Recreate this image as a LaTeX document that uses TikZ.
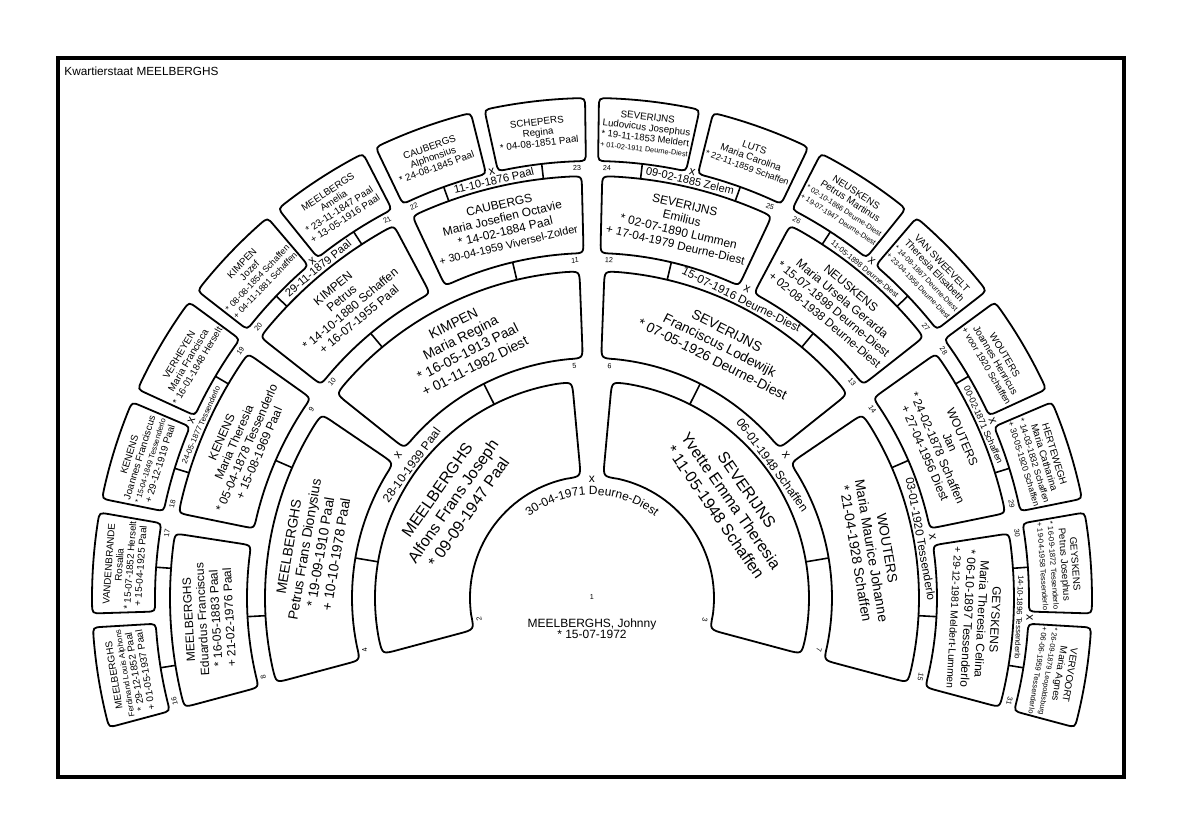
\documentclass[tikz,border=0pt]{standalone}
\usepackage{fontspec}
\setmainfont{Liberation Sans}
\usepackage{graphicx}
\usetikzlibrary{decorations.text}

\newsavebox\fitbox
\def\fitw{100pt}
\newcommand\FL[1]{\sbox\fitbox{#1}\ifdim\wd\fitbox>\fitw\resizebox{\fitw}{!}{\usebox\fitbox}\else\usebox\fitbox\fi}

\newcommand\setgen[1]{\ifcase#1\or
 \def\gG{0}\def\gRi{0}\def\gRo{122}\def\gRc{0}\or
 \def\gG{10.5}\def\gRi{122}\def\gRo{217}\def\gRc{15}\or
 \def\gG{4.4}\def\gRi{240}\def\gRo{327}\def\gRc{14}\or
 \def\gG{2.8}\def\gRi{345}\def\gRo{422}\def\gRc{12}\or
 \def\gG{1.6}\def\gRi{437}\def\gRo{500}\def\gRc{10}\fi}

\newcommand\boxangles[2]{%
 \setgen{#2}%
 \pgfmathsetmacro\nk{2^(#2-1)}%
 \pgfmathsetmacro\gw{(210-(\nk-1)*\gG)/\nk}%
 \pgfmathsetmacro\ahi{195-(#1-\nk)*(\gw+\gG)}%
 \pgfmathsetmacro\alo{\ahi-\gw}%
 \pgfmathsetmacro\ac{\ahi-\gw/2}}

\newcommand\fanbox[5]{%
 \pgfmathsetmacro\dO{#5/#4*180/pi}%
 \pgfmathsetmacro\dI{#5/#3*180/pi}%
 \draw[boxline] ({#1-\dO}:{#4}) arc[start angle={#1-\dO}, end angle={#2+\dO}, radius=#4]
   .. controls ({#2}:{#4}) .. ({#2}:{#4-#5}) -- ({#2}:{#3+#5})
   .. controls ({#2}:{#3}) .. ({#2+\dI}:{#3})
   arc[start angle={#2+\dI}, end angle={#1-\dI}, radius=#3]
   .. controls ({#1}:{#3}) .. ({#1}:{#3+#5}) -- ({#1}:{#4-#5})
   .. controls ({#1}:{#4}) .. cycle;}

\newcommand\pbox[4]{%
 \boxangles{#1}{#2}%
 \pgfmathsetmacro\rmid{(\gRi+\gRo)/2}%
 \fanbox{\ahi}{\alo}{\gRi}{\gRo}{\gRc}%
 \node[#3, rotate=\ac-90] (p#1) at ({\ac}:{\rmid}) {#4};%
 \ifodd#1\relax\pgfmathsetmacro\anum{\alo+9/\gRi*180/pi}\else\pgfmathsetmacro\anum{\ahi-9/\gRi*180/pi}\fi
 \node[numlbl, rotate=\anum-90] (n#1) at ({\anum}:{\gRi-7}) {#1};%
 \ifnum#2>2 \edef\myRi{\gRi}\setgen{\numexpr#2-1\relax}%
 \draw[conn] ({\ac}:{\myRi}) -- ({\ac}:{\gRo});\fi}

% marriage: child number, child generation, font size (pt), text
\newcommand\marr[4]{%
 \pgfmathtruncatemacro\pa{2*#1}\pgfmathtruncatemacro\pb{2*#1+1}\pgfmathtruncatemacro\pg{#2+1}%
 \boxangles{\pa}{\pg}\edef\cA{\ac}\edef\rIn{\gRi}%
 \boxangles{\pb}{\pg}%
 \pgfmathsetmacro\ab{(\cA+\ac)/2}%
 \setgen{#2}%
 \ifnum#2=1
   \path[decorate, decoration={text along path, text align=center,
     text={|\fontsize{#3}{#3}\selectfont|#4}}]
     ({\ab+60}:103) arc[start angle={\ab+60}, end angle={\ab-60}, radius=103];
   \node[xmark, rotate=\ab-90] (x#1) at ({\ab}:119) {x};
 \else
   \pgfmathsetmacro\rb{\gRo+3}\pgfmathsetmacro\rx{\rIn+1}%
   \node[inner sep=0pt, anchor=base, font=\fontsize{#3}{#3}\selectfont, rotate=\ab-90] (m#1) at ({\ab}:{\rb}) {#4};
   \node[xmark, rotate=\ab-90] (x#1) at ({\ab}:{\rx}) {x};
 \fi}

\tikzset{
 boxline/.style={line width=0.9pt, fill=white, line join=round},
 conn/.style={line width=0.8pt},
 numlbl/.style={inner sep=0pt, font=\fontsize{3.6}{4}\selectfont},
 xmark/.style={inner sep=0pt, font=\fontsize{6}{6}\selectfont},
 g2/.style={inner sep=0pt, align=center, font=\fontsize{8}{9.6}\selectfont, execute at begin node=\def\fitw{110pt}},
 g3/.style={inner sep=0pt, align=center, font=\fontsize{6.9}{8}\selectfont, execute at begin node=\def\fitw{95pt}},
 g4/.style={inner sep=0pt, align=center, font=\fontsize{6}{6.8}\selectfont, execute at begin node=\def\fitw{71pt}},
 g5/.style={inner sep=0pt, align=center, font=\fontsize{4.9}{5.3}\selectfont, execute at begin node=\def\fitw{44pt}},
}

\begin{document}
\begin{tikzpicture}[x=0.5pt,y=0.5pt]
\useasboundingbox (-592,-239) rectangle (592,598);
\draw[line width=2pt] (-534,540) rectangle (532,-179);
\node[anchor=west, inner sep=0pt, font=\fontsize{5.9}{7}\selectfont] (title) at (-528,527) {Kwartierstaat MEELBERGHS};

% generation 2
\pbox{2}{2}{g2}{\FL{MEELBERGHS}\\\FL{Alfons Frans Joseph}\\\FL{* 09-09-1947 Paal}}
\pbox{3}{2}{g2}{\FL{SEVERIJNS}\\\FL{Yvette Emma Theresia}\\\FL{* 11-05-1948 Schaffen}}
% generation 3
\pbox{4}{3}{g3}{\FL{MEELBERGHS}\\\FL{Petrus Frans Dionysius}\\\FL{* 19-09-1910 Paal}\\\FL{+ 10-10-1978 Paal}}
\pbox{5}{3}{g3}{\FL{KIMPEN}\\\FL{Maria Regina}\\\FL{* 16-05-1913 Paal}\\\FL{+ 01-11-1982 Diest}}
\pbox{6}{3}{g3}{\FL{SEVERIJNS}\\\FL{Franciscus Lodewijk}\\\FL{* 07-05-1926 Deurne-Diest}}
\pbox{7}{3}{g3}{\FL{WOUTERS}\\\FL{Maria Maurice Johanne}\\\FL{* 21-04-1928 Schaffen}}
% generation 4
\pbox{8}{4}{g4}{\FL{MEELBERGHS}\\\FL{Eduardus Franciscus}\\\FL{* 16-05-1883 Paal}\\\FL{+ 21-02-1976 Paal}}
\pbox{9}{4}{g4}{\FL{KENENS}\\\FL{Maria Theresia}\\\FL{* 05-04-1878 Tessenderlo}\\\FL{+ 15-08-1969 Paal}}
\pbox{10}{4}{g4}{\FL{KIMPEN}\\\FL{Petrus}\\\FL{* 14-10-1880 Schaffen}\\\FL{+ 16-07-1955 Paal}}
\pbox{11}{4}{g4}{\FL{CAUBERGS}\\\FL{Maria Josefien Octavie}\\\FL{* 14-02-1884 Paal}\\\FL{+ 30-04-1959 Viversel-Zolder}}
\pbox{12}{4}{g4}{\FL{SEVERIJNS}\\\FL{Emilius}\\\FL{* 02-07-1890 Lummen}\\\FL{+ 17-04-1979 Deurne-Diest}}
\pbox{13}{4}{g4}{\FL{NEUSKENS}\\\FL{Maria Ursela Gerarda}\\\FL{* 15-07-1898 Deurne-Diest}\\\FL{+ 02-08-1938 Deurne-Diest}}
\pbox{14}{4}{g4}{\FL{WOUTERS}\\\FL{Jan}\\\FL{* 24-02-1878 Schaffen}\\\FL{+ 27-04-1956 Diest}}
\pbox{15}{4}{g4}{\FL{GEYSKENS}\\\FL{Maria Theresia Celina}\\\FL{* 06-10-1897 Tessenderlo}\\\FL{+ 29-12-1981 Meldert-Lummen}}
% generation 5
\pbox{16}{5}{g5}{\FL{MEELBERGHS}\\\FL{Ferdinand Louis Alphons}\\\FL{* 29-12-1852 Paal}\\\FL{+ 01-05-1937 Paal}}
\pbox{17}{5}{g5}{\FL{VANDENBRANDE}\\\FL{Rosalia}\\\FL{* 15-07-1852 Herselt}\\\FL{+ 15-04-1925 Paal}}
\pbox{18}{5}{g5}{\FL{KENENS}\\\FL{Joannes Franciscus}\\\FL{* 15-04-1849 Tessenderlo}\\\FL{+ 29-12-1919 Paal}}
\pbox{19}{5}{g5}{\FL{VERHEYEN}\\\FL{Maria Francisca}\\\FL{* 16-01-1848 Herselt}}
\pbox{20}{5}{g5}{\FL{KIMPEN}\\\FL{Jozef}\\\FL{* 08-08-1854 Schaffen}\\\FL{+ 04-11-1881 Schaffen}}
\pbox{21}{5}{g5}{\FL{MEELBERGS}\\\FL{Amelia}\\\FL{* 23-11-1847 Paal}\\\FL{+ 13-05-1916 Paal}}
\pbox{22}{5}{g5}{\FL{CAUBERGS}\\\FL{Alphonsius}\\\FL{* 24-08-1845 Paal}}
\pbox{23}{5}{g5}{\FL{SCHEPERS}\\\FL{Regina}\\\FL{* 04-08-1851 Paal}}
\pbox{24}{5}{g5}{\FL{SEVERIJNS}\\\FL{Ludovicus Josephus}\\\FL{* 19-11-1853 Meldert}\\\FL{+ 01-02-1911 Deurne-Diest}}
\pbox{25}{5}{g5}{\FL{LUTS}\\\FL{Maria Carolina}\\\FL{* 22-11-1859 Schaffen}}
\pbox{26}{5}{g5}{\FL{NEUSKENS}\\\FL{Petrus Martinus}\\\FL{* 02-10-1866 Deurne-Diest}\\\FL{+ 19-07-1947 Deurne-Diest}}
\pbox{27}{5}{g5}{\FL{VAN SWEEVELT}\\\FL{Theresia Elisabeth}\\\FL{* 14-08-1867 Deurne-Diest}\\\FL{+ 23-04-1956 Deurne-Diest}}
\pbox{28}{5}{g5}{\FL{WOUTERS}\\\FL{Joannes Henricus}\\\FL{+ voor 1920 Schaffen}}
\pbox{29}{5}{g5}{\FL{HERTEWEGH}\\\FL{Maria Catharina}\\\FL{* 14-03-1832 Schaffen}\\\FL{+ 30-05-1920 Schaffen}}
\pbox{30}{5}{g5}{\FL{GEYSKENS}\\\FL{Petrus Josephus}\\\FL{* 16-09-1872 Tessenderlo}\\\FL{+ 19-04-1958 Tessenderlo}}
\pbox{31}{5}{g5}{\FL{VERVOORT}\\\FL{Maria Agnes}\\\FL{* 26-09-1879 Leopoldsburg}\\\FL{+ 06-06-1959 Tessenderlo}}

% person 1
\node[numlbl] (n1) at (0,1) {1};
\node[inner sep=0pt, align=center, font=\fontsize{6}{5.6}\selectfont] (p1) at (0,-30.5) {MEELBERGHS, Johnny\\* 15-07-1972};

% marriages
\marr{1}{1}{6}{30-04-1971 Deurne-Diest}
\marr{2}{2}{6}{28-10-1939 Paal}
\marr{3}{2}{6}{06-01-1948 Schaffen}
\marr{6}{3}{5.8}{15-07-1916 Deurne-Diest}
\marr{7}{3}{5.8}{03-01-1920 Tessenderlo}
\marr{9}{4}{3.9}{24-05-1877 Tessenderlo}
\marr{10}{4}{5.6}{29-11-1879 Paal}
\marr{11}{4}{5.6}{11-10-1876 Paal}
\marr{12}{4}{5.5}{09-02-1885 Zelem}
\marr{13}{4}{3.8}{11-05-1898 Deurne-Diest}
\marr{14}{4}{4.5}{00-02-1871 Schaffen}
\marr{15}{4}{3.9}{14-10-1896 Tessenderlo}
\end{tikzpicture}
\end{document}
